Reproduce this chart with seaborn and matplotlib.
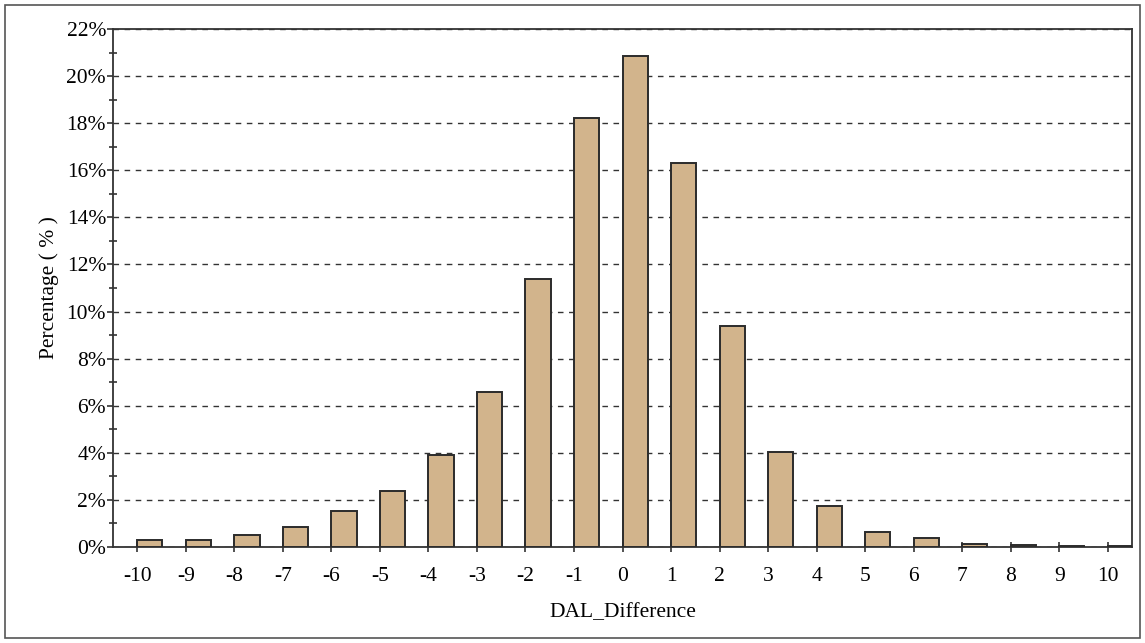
import matplotlib
matplotlib.use("Agg")
import matplotlib.pyplot as plt
import seaborn as sns
import pandas as pd
from matplotlib.ticker import MultipleLocator, FuncFormatter
from matplotlib.patches import Rectangle

categories = [str(v) for v in range(-10, 11)]
percentages = [0.30, 0.30, 0.50, 0.86, 1.53, 2.38, 3.90, 6.58, 11.38, 18.20, 20.85,
               16.30, 9.38, 4.03, 1.75, 0.65, 0.40, 0.14, 0.09, 0.04, 0.04]
y_ticks = list(range(0, 23, 2))

sns.set_theme(style="white")
plt.rcParams['font.family'] = ['Liberation Serif', 'DejaVu Serif']

df = pd.DataFrame({"DAL_Difference": categories, "Percentage": percentages})

fig = plt.figure(figsize=(11.45, 6.43), dpi=100)
ax = fig.add_axes([113/1145, 1 - 547/643, (1132 - 113)/1145, (547 - 29)/643])

sns.barplot(data=df, x="DAL_Difference", y="Percentage", order=categories,
            color="#D2B48C", saturation=1, width=0.52, edgecolor="#2b2b2b",
            linewidth=1.4, ax=ax, zorder=3)
# bars start at their tick (left aligned)
for p in ax.patches:
    p.set_x(p.get_x() + p.get_width() / 2)

ax.set_xlim(-0.5, 20.5)
ax.set_ylim(0, 22)
ax.set_yticks(y_ticks)
ax.yaxis.set_minor_locator(MultipleLocator(1))
ax.yaxis.set_major_formatter(FuncFormatter(lambda v, _: f"{int(round(v))}%"))

ax.grid(axis="y", which="major", linestyle=(0, (4, 4)), color="#333333", linewidth=1.0, zorder=0)
ax.grid(axis="x", visible=False)

for s in ax.spines.values():
    s.set_color("#333333")
    s.set_linewidth(1.3)
    s.set_visible(True)

ax.tick_params(axis="x", which="major", direction="inout", length=7, width=1.2,
               color="#333333", labelsize=15.5, pad=11, bottom=True)
ax.tick_params(axis="y", which="major", direction="out", length=4, width=1.2,
               color="#333333", labelsize=15.5, pad=1, left=True)
ax.tick_params(axis="y", which="minor", direction="inout", length=6, width=1.2,
               color="#333333", left=True)

ax.set_xlabel("DAL_Difference", fontsize=15.5, labelpad=12, color="#000000")
ax.set_ylabel("Percentage ( % )", fontsize=15.5, labelpad=5, color="#000000")
for lab in ax.get_xticklabels() + ax.get_yticklabels():
    lab.set_color("#000000")

fig.patches.append(Rectangle((5/1145, 1 - 638/643), 1135/1145, 633/643,
                             transform=fig.transFigure, fill=False,
                             edgecolor="#555555", linewidth=1.2))

fig.savefig("out.png", dpi=100)
